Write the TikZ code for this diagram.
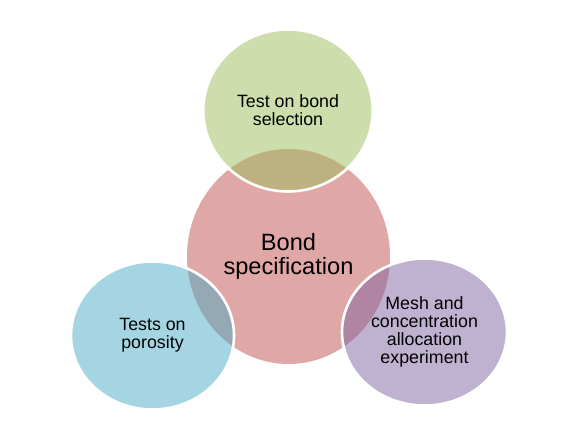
\documentclass[tikz,border=0pt]{standalone}
\usepackage{fontspec}
\setmainfont{Liberation Sans}
\usetikzlibrary{shapes.geometric}
\definecolor{offgreen}{HTML}{9BBB59}
\definecolor{offred}{HTML}{C0504D}
\definecolor{offblue}{HTML}{4BACC6}
\definecolor{offpurple}{HTML}{8064A2}
\tikzset{
  bubble/.style={ellipse, inner sep=0pt, outer sep=0pt, fill opacity=0.5, text opacity=1, align=center, text=black},
  outer/.style={bubble, draw=white, line width=2.6pt, draw opacity=1,
    font=\fontsize{17.8}{17.8}\selectfont},
}
\begin{document}
\begin{tikzpicture}[x=1pt, y=-1pt]
\useasboundingbox (0,0) rectangle (568,425);
\node[bubble, fill=offred, minimum width=203pt, minimum height=215pt,
  font=\fontsize{23.6}{24.4}\selectfont] (center) at (288.5,256.5) {Bond\\specification};
\node[outer, fill=offgreen, minimum width=169.5pt, minimum height=162pt] (top) at (288,110.5) {Test on bond\\selection};
\node[outer, fill=offblue, minimum width=163pt, minimum height=148pt] (left) at (152.5,335.5) {Tests on\\porosity};
\node[outer, fill=offpurple, minimum width=165pt, minimum height=147pt] (right) at (424.5,332) {Mesh and\\concentration\\allocation\\experiment};
\end{tikzpicture}
\end{document}
